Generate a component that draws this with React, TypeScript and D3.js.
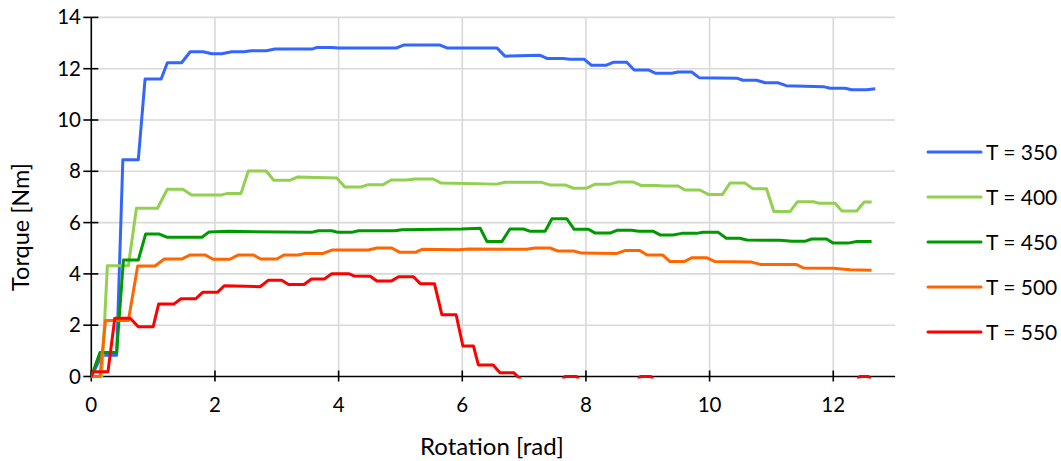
import React from "react";
import * as d3 from "d3";

type P = [number, number];

const seriesNames = ["T = 350", "T = 400", "T = 450", "T = 500", "T = 550"];
const seriesColors = ["#3366FF", "#92D050", "#009900", "#FF6600", "#FF0000"];

const t350: P[] = [
  [0, 0], [0.17, 0.83], [0.41, 0.83], [0.51, 8.45], [0.76, 8.45], [0.87, 11.6], [1.13, 11.6],
  [1.23, 12.23], [1.46, 12.23], [1.6, 12.66], [1.81, 12.66], [1.95, 12.58], [2.11, 12.58],
  [2.27, 12.66], [2.47, 12.66], [2.59, 12.7], [2.83, 12.7], [2.97, 12.77], [3.58, 12.77],
  [3.65, 12.83], [3.89, 12.83], [4.0, 12.81], [4.94, 12.81], [5.05, 12.92], [5.64, 12.92],
  [5.75, 12.81], [6.56, 12.81], [6.69, 12.49], [7.26, 12.52], [7.37, 12.4], [7.63, 12.4],
  [7.74, 12.37], [7.97, 12.37], [8.09, 12.13], [8.32, 12.13], [8.44, 12.25], [8.66, 12.25],
  [8.78, 11.95], [9.01, 11.95], [9.13, 11.82], [9.39, 11.82], [9.49, 11.87], [9.71, 11.87],
  [9.83, 11.65], [10.44, 11.63], [10.54, 11.55], [10.76, 11.55], [10.9, 11.45], [11.11, 11.45],
  [11.24, 11.34], [11.84, 11.3], [11.95, 11.24], [12.19, 11.24], [12.3, 11.18], [12.54, 11.18],
  [12.68, 11.22],
];

const t400: P[] = [
  [0, 0], [0.17, 0], [0.26, 4.32], [0.6, 4.32], [0.73, 6.56], [1.07, 6.56], [1.23, 7.3], [1.48, 7.3],
  [1.62, 7.08], [2.11, 7.08], [2.19, 7.13], [2.42, 7.13], [2.54, 8.01], [2.83, 8.01], [2.95, 7.65],
  [3.21, 7.65], [3.34, 7.78], [3.97, 7.74], [4.1, 7.39], [4.36, 7.39], [4.48, 7.48], [4.72, 7.48],
  [4.85, 7.66], [5.1, 7.66], [5.24, 7.7], [5.53, 7.7], [5.66, 7.54], [6.56, 7.5], [6.69, 7.57],
  [7.28, 7.57], [7.42, 7.47], [7.66, 7.47], [7.8, 7.34], [8.01, 7.34], [8.15, 7.5], [8.39, 7.5],
  [8.51, 7.58], [8.77, 7.58], [8.89, 7.45], [9.14, 7.45], [9.25, 7.43], [9.49, 7.43], [9.6, 7.27],
  [9.84, 7.27], [9.98, 7.1], [10.21, 7.1], [10.33, 7.54], [10.57, 7.54], [10.7, 7.32], [10.92, 7.32],
  [11.04, 6.43], [11.3, 6.43], [11.42, 6.81], [11.68, 6.81], [11.78, 6.75], [12.03, 6.75],
  [12.14, 6.45], [12.38, 6.45], [12.5, 6.8], [12.62, 6.8],
];

const t450: P[] = [
  [0, 0], [0.14, 0.94], [0.41, 0.94], [0.52, 4.54], [0.76, 4.54], [0.88, 5.56], [1.09, 5.56],
  [1.22, 5.43], [1.79, 5.43], [1.9, 5.63], [2.22, 5.66], [3.56, 5.62], [3.67, 5.68], [3.89, 5.68],
  [3.99, 5.62], [4.21, 5.62], [4.32, 5.68], [4.91, 5.68], [5.02, 5.72], [5.99, 5.75], [6.29, 5.78],
  [6.4, 5.26], [6.64, 5.26], [6.77, 5.75], [6.99, 5.75], [7.1, 5.66], [7.34, 5.66], [7.45, 6.15],
  [7.69, 6.15], [7.81, 5.74], [8.04, 5.74], [8.15, 5.59], [8.39, 5.59], [8.5, 5.7], [8.74, 5.7],
  [8.85, 5.66], [9.09, 5.66], [9.2, 5.52], [9.41, 5.52], [9.55, 5.58], [9.79, 5.58], [9.89, 5.62],
  [10.14, 5.62], [10.27, 5.39], [10.49, 5.39], [10.6, 5.32], [11.14, 5.31], [11.33, 5.27],
  [11.54, 5.27], [11.65, 5.36], [11.89, 5.36], [12.0, 5.2], [12.24, 5.2], [12.38, 5.26], [12.62, 5.26],
];

const t500: P[] = [
  [0, 0], [0.14, 0], [0.23, 2.18], [0.6, 2.18], [0.75, 4.31], [1.03, 4.31], [1.18, 4.58], [1.46, 4.58],
  [1.6, 4.74], [1.84, 4.74], [1.97, 4.57], [2.24, 4.57], [2.38, 4.74], [2.62, 4.74], [2.74, 4.58],
  [3.0, 4.58], [3.12, 4.74], [3.35, 4.74], [3.46, 4.8], [3.75, 4.8], [3.89, 4.93], [4.48, 4.93],
  [4.62, 5.01], [4.86, 5.01], [4.99, 4.84], [5.24, 4.84], [5.35, 4.96], [5.94, 4.94], [6.1, 4.97],
  [7.04, 4.96], [7.18, 5.01], [7.42, 5.01], [7.55, 4.89], [7.8, 4.89], [7.93, 4.81], [8.5, 4.8],
  [8.63, 4.91], [8.87, 4.91], [8.99, 4.74], [9.24, 4.74], [9.36, 4.48], [9.59, 4.48], [9.71, 4.63],
  [9.95, 4.63], [10.09, 4.48], [10.68, 4.46], [10.82, 4.37], [11.4, 4.37], [11.52, 4.23],
  [12.0, 4.22], [12.27, 4.16], [12.62, 4.14],
];

const t550: P[] = [
  [0, 0], [0.03, 0.19], [0.27, 0.19], [0.38, 2.27], [0.63, 2.27], [0.76, 1.94], [1.0, 1.94],
  [1.09, 2.83], [1.34, 2.83], [1.45, 3.03], [1.69, 3.03], [1.8, 3.28], [2.04, 3.28], [2.15, 3.54],
  [2.73, 3.5], [2.86, 3.75], [3.08, 3.75], [3.19, 3.59], [3.44, 3.59], [3.56, 3.8], [3.77, 3.8],
  [3.89, 4.01], [4.16, 4.01], [4.25, 3.92], [4.51, 3.91], [4.62, 3.72], [4.85, 3.72], [4.97, 3.89],
  [5.21, 3.89], [5.32, 3.62], [5.55, 3.62], [5.67, 2.41], [5.9, 2.41], [6.01, 1.19], [6.18, 1.19],
  [6.26, 0.45], [6.5, 0.45], [6.61, 0.15], [6.83, 0.15], [6.94, -0.1], [7.05, -0.4], [7.55, -0.4],
  [7.66, 0], [7.85, 0], [7.96, -0.4], [8.77, -0.4], [8.88, 0], [9.05, 0], [9.16, -0.4],
  [12.32, -0.4], [12.43, 0], [12.57, 0], [12.68, -0.4],
];

const allSeries = [t350, t400, t450, t500, t550];
const xTicks = [0, 2, 4, 6, 8, 10, 12];
const yTicks = [0, 2, 4, 6, 8, 10, 12, 14];

const W = 1061;
const H = 461;
const X0 = 91.3;
const X1 = 895;
const Y0 = 376.5;
const Y1 = 17.4;
const FONT = "Lato, 'Open Sans', sans-serif";

export default function App() {
  const x = d3.scaleLinear().domain([0, 13]).range([X0, X0 + 13 * 61.83]);
  const y = d3.scaleLinear().domain([0, 14]).range([Y0, Y1]);
  const line = d3
    .line<P>()
    .x((d) => x(d[0]))
    .y((d) => y(d[1]));

  const legendY = [152, 197, 242, 287, 332];

  return (
    <svg
      width={W}
      height={H}
      style={{ position: "absolute", left: 0, top: 0, background: "#fff" }}
      fontFamily={FONT}
    >
      <defs>
        <clipPath id="plotClip">
          <rect x={X0} y={0} width={X1 - X0 + 10} height={Y0 + 2} />
        </clipPath>
      </defs>
      <rect x={0} y={0} width={W} height={H} fill="#fff" />
      {/* grid */}
      {yTicks.filter((t) => t > 0).map((t) => (
        <line key={"gy" + t} x1={X0} x2={x(13)} y1={y(t)} y2={y(t)} stroke="#D9D9D9" strokeWidth={1.6} />
      ))}
      {xTicks.filter((t) => t > 0).map((t) => (
        <line key={"gx" + t} x1={x(t)} x2={x(t)} y1={Y1} y2={Y0} stroke="#D9D9D9" strokeWidth={1.6} />
      ))}
      {/* axes */}
      <line x1={X0} x2={X0} y1={Y1} y2={Y0} stroke="#000" strokeWidth={1.6} />
      <line x1={X0} x2={x(13)} y1={Y0} y2={Y0} stroke="#000" strokeWidth={1.6} />
      {yTicks.map((t) => (
        <line key={"ty" + t} x1={X0 - 8} x2={X0 + 7} y1={y(t)} y2={y(t)} stroke="#000" strokeWidth={1.6} />
      ))}
      {xTicks.map((t) => (
        <line key={"tx" + t} x1={x(t)} x2={x(t)} y1={Y0 - 6} y2={Y0 + 5} stroke="#000" strokeWidth={1.6} />
      ))}
      {/* tick labels */}
      {yTicks.map((t) => (
        <text key={"ly" + t} x={81} y={y(t) + 7} textAnchor="end" fontSize={20.5} fill="#000">
          {t}
        </text>
      ))}
      {xTicks.map((t) => (
        <text key={"lx" + t} x={x(t)} y={412} textAnchor="middle" fontSize={20.5} fill="#000">
          {t}
        </text>
      ))}
      {/* titles */}
      <text x={492} y={455} textAnchor="middle" fontSize={24} fill="#000">
        Rotation [rad]
      </text>
      <text
        transform={`translate(29,227) rotate(-90)`}
        textAnchor="middle"
        fontSize={23.5}
        fill="#000"
      >
        Torque [Nm]
      </text>
      {/* series */}
      <g clipPath="url(#plotClip)">
        {allSeries.map((s, i) => (
          <path
            key={"s" + i}
            d={line(s) || ""}
            fill="none"
            stroke={seriesColors[i]}
            strokeWidth={3}
            strokeLinejoin="round"
          />
        ))}
      </g>
      {/* legend */}
      {seriesNames.map((n, i) => (
        <g key={"lg" + i}>
          <line x1={928} x2={981} y1={legendY[i]} y2={legendY[i]} stroke={seriesColors[i]} strokeWidth={3} strokeLinecap="round" />
          <text x={986} y={legendY[i] + 7.5} fontSize={21} fill="#000">
            {n}
          </text>
        </g>
      ))}
    </svg>
  );
}
